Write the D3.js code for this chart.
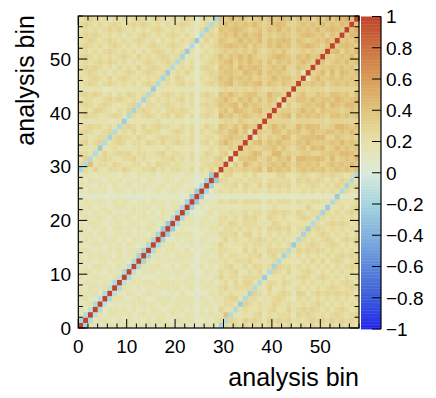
<!DOCTYPE html>
<html><head><meta charset="utf-8">
<script src="https://cdn.jsdelivr.net/npm/d3@7"></script>
<style>
body{margin:0;background:#fff}
svg{display:block}
text{font-family:"Liberation Sans",Arial,Helvetica,sans-serif;fill:#000}
</style>
</head><body>
<svg id="chart" width="436" height="398"></svg>
<script>
// ---------------- data ----------------
const nBins = 58;
const axisTickValues = [0, 10, 20, 30, 40, 50];
const axisTitle = "analysis bin";
const colorTickValues = [-1, -0.8, -0.6, -0.4, -0.2, 0, 0.2, 0.4, 0.6, 0.8, 1];
const colorTickLabels = ["\u22121", "\u22120.8", "\u22120.6", "\u22120.4", "\u22120.2", "0", "0.2", "0.4", "0.6", "0.8", "1"];
// palette stops (value -> colour)
const paletteValues = [-1, -0.8, -0.6, -0.4, -0.2, 0, 0.1, 0.2, 0.3, 0.4, 0.5, 0.6, 0.7, 0.8, 0.9, 1];
const paletteColors = ["#2226ee", "#3a5ad8", "#5a86da", "#80b0dc", "#a5d4df", "#d9eadb", "#e2e6c1", "#e6e0a9", "#e4d392", "#e0c37b", "#dcb069", "#d89c58", "#d3864b", "#cc713f", "#c55a35", "#c0432c"];
// correlation value code: A=-0.50, B=-0.45, ... K=0.00, ... Z=0.75 ; '#' = 1.00
const levelAlphabet = "ABCDEFGHIJKLMNOPQRSTUVWXYZ";
// lower triangle of the symmetric correlation matrix, row i holds columns 0..i
const corrLowerTriangle = [
"#",
"G#",
"NH#",
"OMI#",
"MNOH#",
"NOMMI #",
"ONNOM H#",
"NMONN OI#",
"MONNM ONH#",
"OMNON NMOI #",
"NOOMN MONNH #",
"MNMOO NNMON I#",
"ONNMN OMONN MH#",
"NMONO NNMOM NOG#",
"OONMN MONOM NNOG#",
"NMNOO MNNOM ONMNH #",
"MONNM ONOMN MONNO H#",
"NNOMO NMNON OMNNM OG#",
"ONMNN OMOON NMONO NMF#",
"NMOON MNNOM NONMO OMNF#",
"MONNO NMONN OMNON MNOMH #",
"ONMON NOMNM NONOM NMONN H#",
"NNOMN OMNON MONNO MNOMN OH#",
"MONNO NMONO NMNOM ONNMO NMG#",
"LMMLM LMLMM LMLLM MLMML MLMF#",
"NMONN OMNON MONNM NOMNO NMNNF #",
"ONNMO NMONN OMNON MNOMN ONMNL H#",
"NMONN MONOM NNOMO NMNON MONNL MG#",
"MONMN ONNMO NMONN OMNON NMONL ONF#",
"GPOQO NPPOQ POOPP QOPNP PONPM POQO #",
"PHSOP POQPO OPPNP OQPPO PONOM OPPQ Q#",
"OQHOP QPONP PQOPO NOPPQ OPNPM PPOQ RO#",
"PPOHO QOPQP QOPPO OPQOP PONPM OQPO QRN#",
"OONOF NOPOO NOPON OONPO NONOM ONPO QPRQ#",
"PQOPQ HOPQP NPPOQ POQOP QPOPM PQOP RTRQQ #",
"OPNOP PGPQP POQPN OPQPP POOPM OPPO QRSRR Q#",
"PQPOO PQHOP OQOPQ PPNOP QPNPM POPQ RQSTQ SN#",
"OPQPP NPOHP QPOQO PQPPO OPOPM OQPO SRQSQ TRR#",
"NONOO ONNOF NOONO OPNNO NOMNM NONO PQQPR QPQP#",
"PQPPO OPQPN HPOPQ POPQO QPNPM PQPO TRSQR SRQRQ #",
"OPOQQ PONPO QGPQP OPNPQ PQPOM OPPO RSQTS RQSTQ Q#",
"PQPOP QPONO PQHOP POPQP OPNPM PQPQ SRSTQ TRSRQ RQ#",
"OPPOO PQPQP OPOGP NPOPO PQNPM OPPQ RTRQS RTQSQ SRO#",
"PQPQP OPNPO QPOPH POPQP OPOPM PQPO SRTRQ RSSQQ TRRQ#",
"NONOO MNONO NOONO FNONO NONNM NONO PQPQP QPRQP PQPQP #",
"OPQPO PQPOP OPNPQ PHOPO PQOPM OPQP RSTQR SRSTQ SRQSR Q#",
"POPQP OQOPQ POPNP OPGPO QPNOM POPQ SRTRS RSQRQ RTRSS QR#",
"OPQPO PNPOP QPOPQ POPFO POQOM OPQP RSSRQ TSRTQ SRSRQ PRN#",
"PQPQP OPNPO POQOP QPOPH OPOPM PQPO SRSQT RSTSQ RSRTQ QSRQ#",
"OPOPQ PQPOP NPOPQ POPQP HPNPM OPQP RSTQS RTRSQ SQSRS QRTRQ #",
"PQPOP OPOPQ POQOP OPQPO PGNOM POPQ SQSRT RTRQQ RSTSR QSRTR S#",
"OPOPO PQPOP OPNPO PQPOP OPFOM OPOP QRQRQ RQSQP QRQSQ PQRQR QR#",
"PQPOP OPQPO PNPOP QPOPQ PONHM POPQ RSTSR SQSRQ SRTRS QRSTS RQS#",
"OPQPO PQPOP OPQPO PNPOP OPOPF OQOP SRQRT RSRTQ SRSTS QSRQR SRTR#",
"PQPQP OPOPN POPQP OPOPQ POPOM HPQP RSRTR TRSTQ RQRSR QRSTS RSQSR #",
"OPOPO PQPQP OPNPO PQPOP OPNOM PGPO SRSTS RQRSQ SRTRS QSRSR TRSTS R#",
"PQPOP OPQPO PQPQP OPNPO PQPOM OPHP RTRSR SRTRQ RSTSQ QRSRS RTRSR TS#",
"OPQPO PNPOP OPQPO PQPOP OPQPM OPOH SRTRS RQRSQ SRSTS QSRSQ SRTRT TUS#"
];

// ---------------- build cells ----------------
function decode(ch) { return ch === "#" ? 1 : -0.5 + 0.05 * levelAlphabet.indexOf(ch); }
const cells = [];
corrLowerTriangle.forEach((rowStr, i) => {
  const s = rowStr.replace(/\s+/g, "");
  if (s.length !== i + 1) console.warn("row", i, "length", s.length);
  for (let j = 0; j <= i && j < s.length; j++) {
    const v = decode(s[j]);
    cells.push({ x: j, y: i, v });
    if (j !== i) cells.push({ x: i, y: j, v });
  }
});

// ---------------- layout ----------------
const svg = d3.select("#chart");
const frame = { left: 78.3, right: 359, top: 16, bottom: 328 };
const x = d3.scaleLinear().domain([0, nBins]).range([frame.left, frame.right]);
const y = d3.scaleLinear().domain([0, nBins]).range([frame.bottom, frame.top]);
const color = d3.scaleLinear().domain(paletteValues).range(paletteColors)
  .interpolate(d3.interpolateRgb).clamp(true);

// heatmap
svg.append("g").selectAll("rect").data(cells).join("rect")
  .attr("x", d => x(d.x))
  .attr("y", d => y(d.y + 1))
  .attr("width", d => x(d.x + 1) - x(d.x) + 0.35)
  .attr("height", d => y(d.y) - y(d.y + 1) + 0.35)
  .attr("fill", d => color(d.v));

// frame ticks (ROOT style, inside, on all four sides)
const majorLen = 9, minorLen = 4.5;
const minorVals = d3.range(0, nBins + 0.001, 2).filter(v => v % 10 !== 0);
const tg = svg.append("g").attr("stroke", "#000").attr("stroke-width", 1);
function ticksFor(vals, len) {
  vals.forEach(v => {
    const px = x(v), py = y(v);
    tg.append("line").attr("x1", px).attr("x2", px).attr("y1", frame.bottom).attr("y2", frame.bottom - len);
    tg.append("line").attr("x1", px).attr("x2", px).attr("y1", frame.top).attr("y2", frame.top + len);
    tg.append("line").attr("y1", py).attr("y2", py).attr("x1", frame.left).attr("x2", frame.left + len);
    tg.append("line").attr("y1", py).attr("y2", py).attr("x1", frame.right).attr("x2", frame.right - len);
  });
}
ticksFor(axisTickValues, majorLen);
ticksFor(minorVals, minorLen);

svg.append("rect")
  .attr("x", frame.left).attr("y", frame.top)
  .attr("width", frame.right - frame.left).attr("height", frame.bottom - frame.top)
  .attr("fill", "none").attr("stroke", "#000").attr("stroke-width", 1.2);

// tick labels
const fs = 19;
svg.append("g").selectAll("text").data(axisTickValues).join("text")
  .attr("x", d => x(d)).attr("y", 353)
  .attr("text-anchor", "middle").attr("font-size", fs).text(d => d);
svg.append("g").selectAll("text").data(axisTickValues).join("text")
  .attr("x", 71).attr("y", d => y(d)).attr("dy", "0.36em")
  .attr("text-anchor", "end").attr("font-size", fs).text(d => d);

// axis titles
svg.append("text").attr("x", frame.right).attr("y", 386)
  .attr("text-anchor", "end").attr("font-size", 25).text(axisTitle);
svg.append("text").attr("transform", `translate(34,${frame.top - 1}) rotate(-90)`)
  .attr("text-anchor", "end").attr("font-size", 25).text(axisTitle);

// colour bar
const cb = { left: 361, right: 381, top: 16.5, bottom: 329 };
const cy = d3.scaleLinear().domain([-1, 1]).range([cb.bottom, cb.top]);
const steps = d3.range(-1, 1, 0.01);
svg.append("g").selectAll("rect").data(steps).join("rect")
  .attr("x", cb.left).attr("width", cb.right - cb.left)
  .attr("y", d => cy(d + 0.01)).attr("height", d => cy(d) - cy(d + 0.01) + 0.4)
  .attr("fill", d => color(d + 0.005));
svg.append("line").attr("x1", cb.right).attr("x2", cb.right)
  .attr("y1", cb.top).attr("y2", cb.bottom).attr("stroke", "#000").attr("stroke-width", 1.2);
svg.append("g").selectAll("line").data(colorTickValues).join("line")
  .attr("x1", cb.right).attr("x2", cb.right - 9)
  .attr("y1", d => cy(d)).attr("y2", d => cy(d))
  .attr("stroke", "#000").attr("stroke-width", 1);
svg.append("g").selectAll("text").data(colorTickValues).join("text")
  .attr("x", 386).attr("y", d => cy(d)).attr("dy", "0.36em")
  .attr("font-size", fs).text((d, i) => colorTickLabels[i]);
</script>
</body></html>
